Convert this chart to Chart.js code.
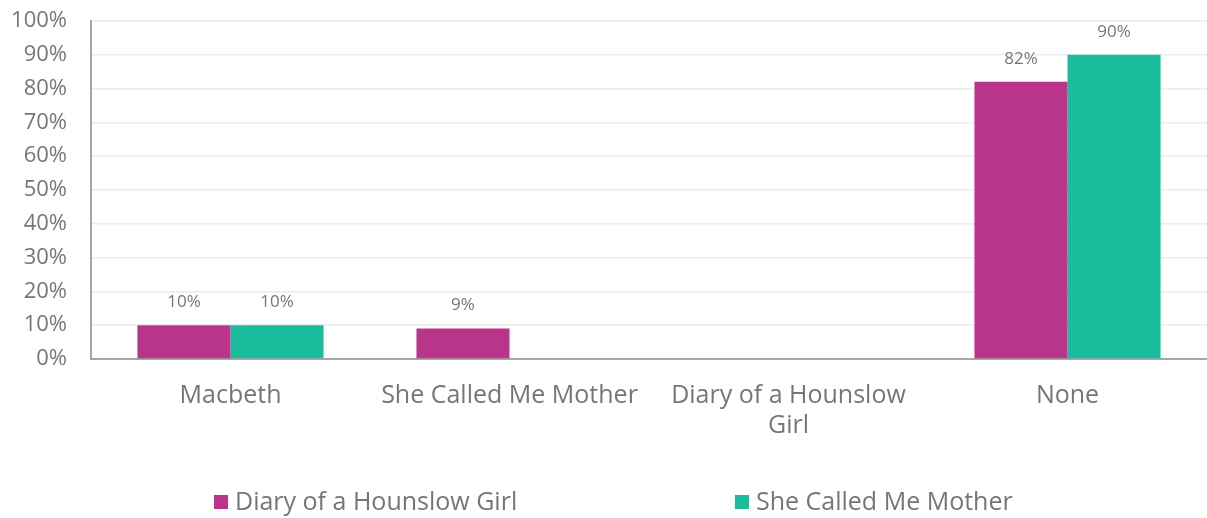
<!DOCTYPE html>
<html>
<head>
<meta charset="utf-8">
<script src="https://cdn.jsdelivr.net/npm/chart.js@4"></script>
<style>
  html, body { margin: 0; padding: 0; background: #fff; }
  #wrap { position: relative; width: 1207px; height: 518px; }
  #legend { position: absolute; left: 0; top: 484px; width: 1207px; height: 32px;
            font-family: "Open Sans", sans-serif; font-size: 25px; color: #767676; }
  .item { position: absolute; top: 0; white-space: nowrap; line-height: 32px; }
  .box { display: inline-block; width: 14px; height: 14px; margin-right: 7px; vertical-align: 1px; }
</style>
</head>
<body>
<div id="wrap">
  <canvas id="chart"></canvas>
  <div id="legend"></div>
</div>
<script>
const categories = ['Macbeth', 'She Called Me Mother', ['Diary of a Hounslow', 'Girl'], 'None'];
const seriesNames = ['Diary of a Hounslow Girl', 'She Called Me Mother'];
const diaryValues = [10, 9, null, 82];
const motherValues = [10, null, null, 90];
const seriesColors = ['#b8358a', '#1abc9c'];
const yMax = 100;
const yStep = 10;

const textGrey = '#767676';
const axisGrey = '#a6a6a6';

// value labels above each bar
const barLabels = {
  id: 'barLabels',
  afterDatasetsDraw(chart) {
    const ctx = chart.ctx;
    ctx.save();
    ctx.font = '17px "Open Sans", sans-serif';
    ctx.fillStyle = textGrey;
    ctx.textAlign = 'center';
    ctx.textBaseline = 'middle';
    chart.data.datasets.forEach((ds, i) => {
      const meta = chart.getDatasetMeta(i);
      meta.data.forEach((bar, j) => {
        const v = ds.data[j];
        if (v == null) return;
        ctx.fillText(v + '%', bar.x, bar.y - 23);
      });
    });
    ctx.restore();
  }
};

const ctx = document.getElementById('chart').getContext('2d');
new Chart(ctx, {
  type: 'bar',
  data: {
    labels: categories,
    datasets: [
      { label: seriesNames[0], data: diaryValues, backgroundColor: seriesColors[0] },
      { label: seriesNames[1], data: motherValues, backgroundColor: seriesColors[1] }
    ]
  },
  options: {
    responsive: true,
    maintainAspectRatio: false,
    animation: false,
    layout: { padding: { top: 21, right: 0, bottom: 79, left: 0 } },
    datasets: { bar: { categoryPercentage: 0.667, barPercentage: 1.0 } },
    scales: {
      x: {
        grid: { display: false },
        border: { color: axisGrey, width: 2 },
        ticks: {
          color: textGrey,
          padding: 14,
          maxRotation: 0,
          autoSkip: false,
          font: { family: '"Open Sans", sans-serif', size: 25, lineHeight: 1.2 }
        },
        afterFit(scale) { scale.height = 80; }
      },
      y: {
        min: 0,
        max: yMax,
        // invisible tick marks give the gap between labels and axis
        grid: { color: '#ececec', lineWidth: 1.5, drawTicks: true, tickLength: 24, tickColor: 'rgba(0,0,0,0)' },
        border: { color: axisGrey, width: 2 },
        ticks: {
          stepSize: yStep,
          color: textGrey,
          padding: 0,
          font: { family: '"Open Sans", sans-serif', size: 22 },
          callback: v => v + '%'
        },
        afterFit(scale) { scale.width = 91; }
      }
    },
    plugins: {
      legend: { display: false },
      tooltip: { enabled: false }
    }
  },
  plugins: [barLabels]
});

// legend under the chart
const legendLeft = [214, 735];
const legendEl = document.getElementById('legend');
seriesNames.forEach((name, i) => {
  const item = document.createElement('div');
  item.className = 'item';
  item.style.left = legendLeft[i] + 'px';
  item.innerHTML = `<span class="box" style="background:${seriesColors[i]}"></span>${name}`;
  legendEl.appendChild(item);
});
</script>
</body>
</html>
